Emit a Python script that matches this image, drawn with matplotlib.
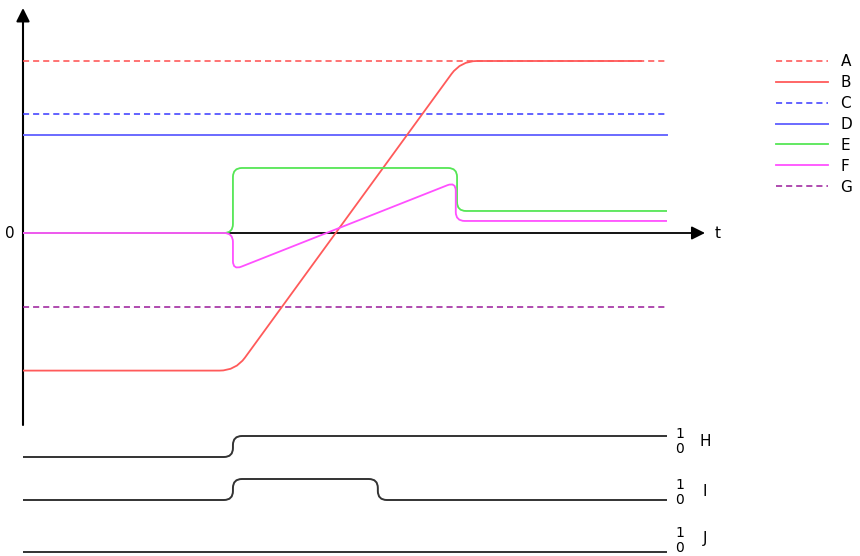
import numpy as np
import matplotlib
matplotlib.use('Agg')
import matplotlib.pyplot as plt
from matplotlib.path import Path
from matplotlib.patches import PathPatch
from matplotlib.lines import Line2D

# levels of the constant traces
level_A = 1.0
level_C = 0.69
level_D = 0.57
level_G = -0.43

# traces with transitions (time, value)
B_t = [0, 3.3, 6.8, 9.61]
B_v = [-0.80, -0.80, 1.0, 1.0]
E_t = [0, 3.26, 3.26, 6.74, 6.74, 10]
E_v = [0, 0, 0.378, 0.378, 0.128, 0.128]
F_t = [0, 3.26, 3.26, 6.72, 6.72, 10]
F_v = [0, 0, -0.215, 0.297, 0.07, 0.07]

# digital signals
H_t = [0, 3.26, 3.26, 10]
H_v = [0, 0, 1, 1]
I_t = [0, 3.26, 3.26, 5.51, 5.51, 10]
I_v = [0, 0, 1, 1, 0, 0]
J_t = [0, 10]
J_v = [0, 0]

t_end = 10

W, H = 860, 556
PX = 64.4    # pixels per time unit
PY = 172.0   # pixels per value unit
FS = 11


def fx(px):
    return px / W


def fy(py):
    return 1 - py / H


def rounded(ax, xs, ys, cut):
    # polyline with rounded corners, cut given in pixels
    pts = ax.transData.transform(np.column_stack([xs, ys]))
    verts = [pts[0]]
    codes = [Path.MOVETO]
    for i in range(1, len(pts) - 1):
        p0, p1, p2 = pts[i - 1], pts[i], pts[i + 1]
        d1 = p1 - p0
        d2 = p2 - p1
        n1 = np.hypot(*d1)
        n2 = np.hypot(*d2)
        c1 = min(cut, n1 / 2)
        c2 = min(cut, n2 / 2)
        verts += [p1 - d1 / n1 * c1, p1, p1 + d2 / n2 * c2]
        codes += [Path.LINETO, Path.CURVE3, Path.CURVE3]
    verts.append(pts[-1])
    codes.append(Path.LINETO)
    verts = ax.transData.inverted().transform(np.array(verts))
    return Path(verts, codes)


fig = plt.figure(figsize=(8.6, 5.56), dpi=100)

# main analog panel
ax = fig.add_axes([fx(23), fy(430), 11 * PX / W, 430 / H])
ax.set_xlim(0, 11)
ax.set_ylim(-(430 - 233) / PY, 233 / PY)
ax.axis('off')

ax.annotate('', xy=(0, 225 / PY), xytext=(0, -192 / PY),
            arrowprops=dict(arrowstyle='-|>', color='black', lw=1.5,
                            mutation_scale=20, shrinkA=0, shrinkB=0))
ax.annotate('', xy=(682 / PX, 0), xytext=(0, 0),
            arrowprops=dict(arrowstyle='-|>', color='black', lw=1.3,
                            mutation_scale=20, shrinkA=0, shrinkB=0))
ax.text(-13 / PX, 0, '0', ha='center', va='center', fontsize=FS)
ax.text(695 / PX, 0, 't', ha='center', va='center', fontsize=FS)

col_A = '#ff4d4d'
col_B = '#ff5a5a'
col_C = '#3838ff'
col_D = '#6a6aff'
col_E = '#55e655'
col_F = '#ff50ff'
col_G = '#9a1a9a'
dash = (4.0, 2.6)

ax.plot([0, t_end], [level_A, level_A], color=col_A, lw=1.1, dashes=dash, zorder=3)
ax.plot([0, t_end], [level_C, level_C], color=col_C, lw=1.1, dashes=dash, zorder=3)
ax.plot([0, t_end], [level_D, level_D], color=col_D, lw=1.4, zorder=3)
ax.plot([0, t_end], [level_G, level_G], color=col_G, lw=1.1, dashes=dash, zorder=3)

ax.add_patch(PathPatch(rounded(ax, B_t, B_v, 16), fill=False, edgecolor=col_B, lw=1.3, zorder=3))
ax.add_patch(PathPatch(rounded(ax, E_t, E_v, 9), fill=False, edgecolor=col_E, lw=1.3, zorder=3))
ax.add_patch(PathPatch(rounded(ax, F_t, F_v, 9), fill=False, edgecolor=col_F, lw=1.3, zorder=4))

handles = [
    Line2D([], [], color=col_A, lw=1.1, dashes=dash),
    Line2D([], [], color=col_B, lw=1.3),
    Line2D([], [], color=col_C, lw=1.1, dashes=dash),
    Line2D([], [], color=col_D, lw=1.4),
    Line2D([], [], color=col_E, lw=1.3),
    Line2D([], [], color=col_F, lw=1.3),
    Line2D([], [], color=col_G, lw=1.1, dashes=dash),
]
labels = ['A', 'B', 'C', 'D', 'E', 'F', 'G']
fig.legend(handles, labels, loc='upper left', bbox_to_anchor=(fx(776), fy(54)),
           frameon=False, borderpad=0, borderaxespad=0, handlelength=3.4,
           handletextpad=0.82, labelspacing=0.39, fontsize=FS)

# digital panels: (times, values, pixel of 0 level, pixel of 1 level, label, label rows)
digital = [
    (H_t, H_v, 457, 436, 'H', 434, 449, 442),
    (I_t, I_v, 500, 479, 'I', 485, 500, 492),
    (J_t, J_v, 552, 531, 'J', 533, 548, 539),
]
for ts, vs, p0, p1, name, y1, y0, yn in digital:
    amp = p0 - p1
    dax = fig.add_axes([fx(23), fy(p0 + amp / 2), 11 * PX / W, 2 * amp / H])
    dax.set_xlim(0, 11)
    dax.set_ylim(-0.5, 1.5)
    dax.axis('off')
    dax.add_patch(PathPatch(rounded(dax, ts, vs, 9), fill=False,
                            edgecolor='#333333', lw=1.4, clip_on=False))
    fig.text(fx(680), fy(y1), '1', ha='center', va='center', fontsize=10)
    fig.text(fx(680), fy(y0), '0', ha='center', va='center', fontsize=10)
    fig.text(fx(705), fy(yn), name, ha='center', va='center', fontsize=FS)

fig.savefig('out.png', dpi=100)
